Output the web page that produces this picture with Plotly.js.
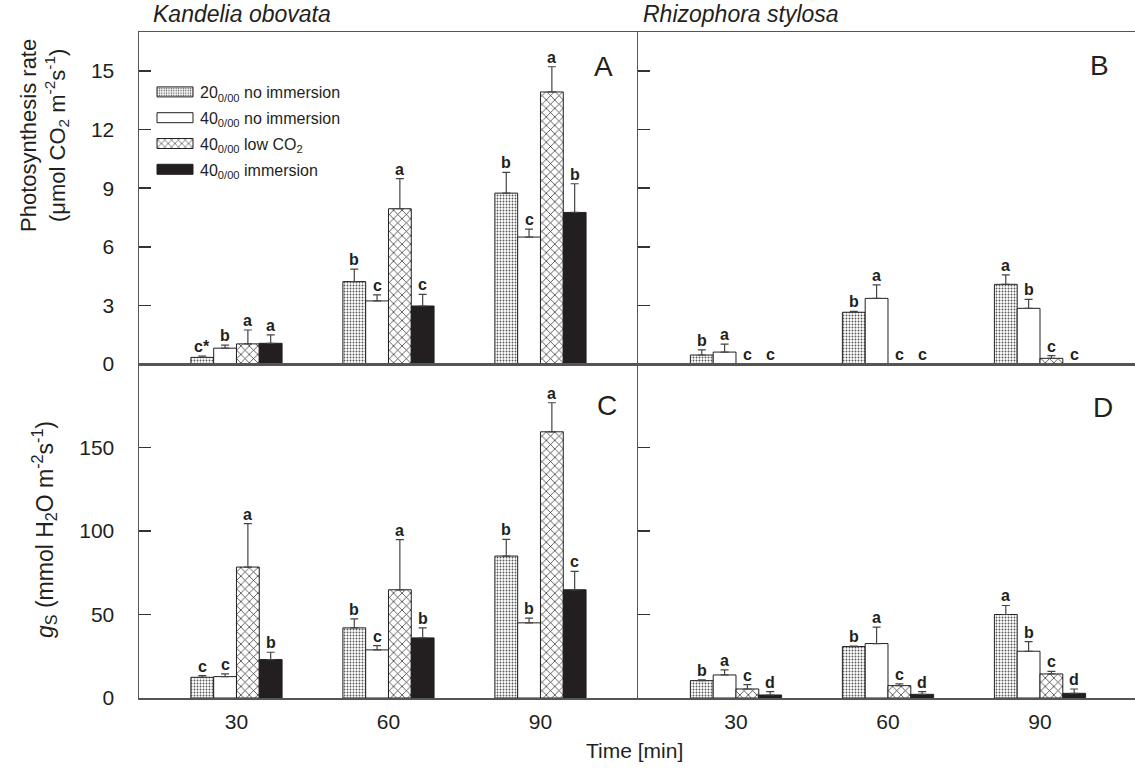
<!DOCTYPE html>
<html>
<head>
<meta charset="utf-8">
<script src="https://cdn.plot.ly/plotly-3.0.1.min.js"></script>
<style>
html,body{margin:0;padding:0;background:#fff;}
#chart{width:1135px;height:768px;}
.legendpoints path{ d: path("M18,5H-18V-5H18Z"); }
</style>
</head>
<body>
<div id="chart"></div>
<script>
// ---- data ----
const times = [30, 60, 90];
const seriesNames = [
  '20<sub>0/00</sub> no immersion',
  '40<sub>0/00</sub> no immersion',
  '40<sub>0/00</sub> low CO<sub>2</sub>',
  '40<sub>0/00</sub> immersion'
];
// Panel A: Kandelia obovata, photosynthesis
const A_s1 = [0.34, 4.22, 8.75];   const A_s1_err = [0.07, 0.64, 1.06];
const A_s2 = [0.81, 3.23, 6.50];   const A_s2_err = [0.16, 0.31, 0.41];
const A_s3 = [1.03, 7.95, 13.93];  const A_s3_err = [0.71, 1.54, 1.29];
const A_s4 = [1.06, 2.97, 7.76];   const A_s4_err = [0.43, 0.60, 1.47];
const A_letters = [['c*','b','b'], ['b','c','c'], ['a','a','a'], ['a','c','b']];
// Panel B: Rhizophora stylosa, photosynthesis
const B_s1 = [0.46, 2.65, 4.08];   const B_s1_err = [0.26, 0.05, 0.48];
const B_s2 = [0.61, 3.36, 2.85];   const B_s2_err = [0.41, 0.69, 0.46];
const B_s3 = [0, 0, 0.29];         const B_s3_err = [null, null, 0.14];
const B_s4 = [0, 0, 0];            const B_s4_err = [null, null, null];
const B_letters = [['b','b','a'], ['a','a','b'], ['c','c','c'], ['c','c','c']];
// Panel C: Kandelia obovata, gs
const C_s1 = [12.4, 42.0, 85.0];   const C_s1_err = [1.0, 5.4, 10.0];
const C_s2 = [12.8, 28.8, 45.0];   const C_s2_err = [1.6, 2.6, 2.8];
const C_s3 = [78.4, 64.8, 159.4];  const C_s3_err = [26.0, 30.0, 17.4];
const C_s4 = [23.0, 36.0, 64.8];   const C_s4_err = [4.4, 6.0, 11.0];
const C_letters = [['c','b','b'], ['c','c','b'], ['a','a','a'], ['b','b','c']];
// Panel D: Rhizophora stylosa, gs
const D_s1 = [10.4, 30.8, 50.0];   const D_s1_err = [0.4, 0.3, 5.4];
const D_s2 = [13.8, 32.6, 28.0];   const D_s2_err = [3.0, 9.8, 5.8];
const D_s3 = [5.4, 7.4, 14.4];     const D_s3_err = [2.6, 1.0, 1.6];
const D_s4 = [1.8, 2.2, 2.8];      const D_s4_err = [2.0, 1.6, 2.6];
const D_letters = [['b','b','a'], ['a','a','b'], ['c','c','c'], ['d','d','d']];

// ---- styling ----
const FONT = 'Liberation Sans, Arial, Helvetica, sans-serif';
const INK = '#231f20';
const markers = [
  {color:'#ffffff', line:{color:INK, width:1}, pattern:{shape:'.', size:3, solidity:0.3, fgcolor:'#555', bgcolor:'#ffffff', fillmode:'replace'}},
  {color:'#ffffff', line:{color:INK, width:1}},
  {color:'#ffffff', line:{color:INK, width:1}, pattern:{shape:'x', size:6, solidity:0.22, fgcolor:INK, bgcolor:'#ffffff', fillmode:'replace'}},
  {color:INK, line:{color:INK, width:1}}
];
const panels = [
  {xa:'x',  ya:'y',  vals:[A_s1,A_s2,A_s3,A_s4], errs:[A_s1_err,A_s2_err,A_s3_err,A_s4_err], letters:A_letters, legend:true},
  {xa:'x2', ya:'y2', vals:[B_s1,B_s2,B_s3,B_s4], errs:[B_s1_err,B_s2_err,B_s3_err,B_s4_err], letters:B_letters, legend:false},
  {xa:'x3', ya:'y3', vals:[C_s1,C_s2,C_s3,C_s4], errs:[C_s1_err,C_s2_err,C_s3_err,C_s4_err], letters:C_letters, legend:false},
  {xa:'x4', ya:'y4', vals:[D_s1,D_s2,D_s3,D_s4], errs:[D_s1_err,D_s2_err,D_s3_err,D_s4_err], letters:D_letters, legend:false}
];

const bargap = 0.4;
const groupSpan = 30 * (1 - bargap);
const barW = groupSpan / 4;

const traces = [];
const annotations = [];
panels.forEach(p => {
  p.vals.forEach((v, i) => {
    traces.push({
      type:'bar', x:times, y:v, xaxis:p.xa, yaxis:p.ya,
      name:seriesNames[i], legendgroup:'s'+i, showlegend:p.legend,
      marker:markers[i],
      error_y:{type:'data', symmetric:false, array:p.errs[i], arrayminus:v.map(()=>0),
               color:'#444', thickness:1.2, width:4},
      hoverinfo:'skip'
    });
    v.forEach((val, k) => {
      const e = p.errs[i][k] || 0;
      annotations.push({
        xref:p.xa, yref:p.ya, x: times[k] + (i - 1.5) * barW, y: val + e,
        text:'<b>' + p.letters[i][k] + '</b>', showarrow:false,
        xanchor:'center', yanchor:'bottom', yshift:-1,
        font:{family:FONT, size:16, color:INK}
      });
    });
  });
});

function px2x(px){ return (px - 139) / 996; }
function py2y(py){ return (698 - py) / 666; }

const extra = [
  {text:'<i>Kandelia obovata</i>', x:px2x(151), y:py2y(14), xanchor:'left', size:23},
  {text:'<i>Rhizophora stylosa</i>', x:px2x(641), y:py2y(14), xanchor:'left', size:23},
  {text:'A', x:px2x(603), y:py2y(67), xanchor:'center', size:28},
  {text:'B', x:px2x(1099), y:py2y(65), xanchor:'center', size:28},
  {text:'C', x:px2x(607), y:py2y(405), xanchor:'center', size:28},
  {text:'D', x:px2x(1103), y:py2y(408), xanchor:'center', size:28},
  {text:'Time [min]', x:px2x(634), y:py2y(750), xanchor:'center', size:21}
];
extra.forEach(a => annotations.push({
  xref:'paper', yref:'paper', x:a.x, y:a.y, xanchor:a.xanchor, yanchor:'middle',
  text:a.text, showarrow:false, font:{family:FONT, size:a.size, color:INK}
}));
annotations.push({
  xref:'paper', yref:'paper', x:px2x(44), y:py2y(136), xanchor:'center', yanchor:'middle',
  textangle:-90, showarrow:false,
  text:'Photosynthesis rate<br>(μmol CO<sub>2</sub> m<sup>-2</sup>s<sup>-1</sup>)',
  font:{family:FONT, size:22, color:INK}
});
annotations.push({
  xref:'paper', yref:'paper', x:px2x(44), y:py2y(530), xanchor:'center', yanchor:'middle',
  textangle:-90, showarrow:false,
  text:'<i>g</i><sub>S</sub> (mmol H<sub>2</sub>O m<sup>-2</sup>s<sup>-1</sup>)',
  font:{family:FONT, size:23, color:INK}
});

const LINE = '#555';
const xBase = {showline:true, linecolor:LINE, linewidth:1.5, mirror:true, ticks:'', showgrid:false, zeroline:false,
  tickvals:times, ticktext:times.map(String), ticklabelstandoff:4, tickfont:{family:FONT, size:21, color:INK}};
const yBase = {showline:true, linecolor:LINE, linewidth:1.5, ticks:'inside', ticklen:12, tickwidth:1.5, tickcolor:'#333',
  showgrid:false, zeroline:false, ticklabelstandoff:19, tickfont:{family:FONT, size:21, color:INK}};
const splitX = 499/996, splitY = 334/666;

const layout = {
  width:1135, height:768,
  margin:{l:139, r:0, t:32, b:70},
  paper_bgcolor:'#fff', plot_bgcolor:'#fff',
  barmode:'group', bargap:bargap, bargroupgap:0,
  font:{family:FONT, color:INK},
  showlegend:true,
  legend:{x:px2x(150), y:py2y(75), xanchor:'left', yanchor:'top', bgcolor:'rgba(0,0,0,0)',
          font:{family:FONT, size:16, color:INK}, itemwidth:40, tracegroupgap:2},
  xaxis: Object.assign({}, xBase, {domain:[0, splitX], range:[10.76, 109.25], anchor:'y', showticklabels:false}),
  xaxis2:Object.assign({}, xBase, {domain:[splitX, 1], range:[10.66, 108.75], anchor:'y2', showticklabels:false}),
  xaxis3:Object.assign({}, xBase, {domain:[0, splitX], range:[10.76, 109.25], anchor:'y3'}),
  xaxis4:Object.assign({}, xBase, {domain:[splitX, 1], range:[10.66, 108.75], anchor:'y4'}),
  yaxis: Object.assign({}, yBase, {domain:[splitY, 1], range:[0, 17], tickvals:[0,3,6,9,12,15], anchor:'x'}),
  yaxis2:Object.assign({}, yBase, {domain:[splitY, 1], range:[0, 17], tickvals:[0,3,6,9,12,15], anchor:'x2', showticklabels:false}),
  yaxis3:Object.assign({}, yBase, {domain:[0, splitY], range:[0, 200], tickvals:[0,50,100,150], anchor:'x3'}),
  yaxis4:Object.assign({}, yBase, {domain:[0, splitY], range:[0, 200], tickvals:[0,50,100,150], anchor:'x4', showticklabels:false}),
  annotations:annotations
};

Plotly.newPlot('chart', traces, layout, {staticPlot:true, displayModeBar:false}).then(() => {
  const widen = () => document.querySelectorAll('.legendpoints path').forEach(p => p.setAttribute('d', 'M18,5H-18V-5H18Z'));
  widen(); setTimeout(widen, 50); setTimeout(widen, 300);
});
</script>
</body>
</html>
